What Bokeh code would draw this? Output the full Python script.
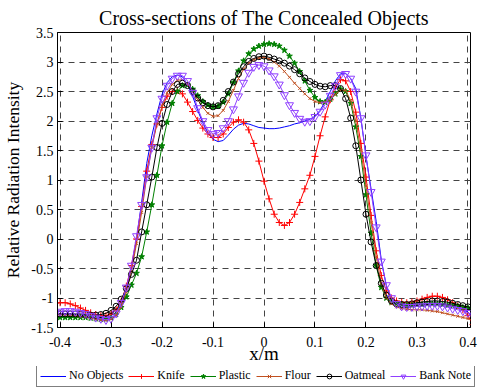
from bokeh.plotting import figure
from bokeh.layouts import column
from bokeh.models import Legend, LegendItem, Range1d, FixedTicker
from bokeh.embed import file_html
from bokeh.resources import INLINE

# ---- data -------------------------------------------------------------
x_m = [round(-0.41 + 0.01 * i, 2) for i in range(83)]

no_objects = [-1.27, -1.27, -1.27, -1.27, -1.28, -1.29, -1.30, -1.31, -1.33, -1.34,
              -1.33, -1.30, -1.24, -1.10, -0.85, -0.50, 0.00, 0.62, 1.28, 1.75,
              2.12, 2.45, 2.65, 2.75, 2.78, 2.75, 2.62, 2.42, 2.18, 1.97,
              1.80, 1.69, 1.65, 1.67, 1.76, 1.86, 1.93, 1.96, 1.95, 1.92,
              1.89, 1.88, 1.87, 1.87, 1.88, 1.90, 1.92, 1.95, 1.97, 2.00,
              2.03, 2.08, 2.18, 2.33, 2.50, 2.68, 2.80, 2.81, 2.72, 2.55,
              2.05, 1.40, 0.85, 0.30, -0.35, -0.80, -1.00, -1.08, -1.11, -1.12,
              -1.12, -1.11, -1.11, -1.10, -1.10, -1.10, -1.11, -1.12, -1.14, -1.16,
              -1.19, -1.24, -1.33]

knife = [-1.09, -1.08, -1.08, -1.10, -1.13, -1.17, -1.21, -1.25, -1.28, -1.30,
         -1.30, -1.27, -1.20, -1.05, -0.80, -0.45, 0.00, 0.55, 1.15, 1.60,
         1.95, 2.23, 2.42, 2.50, 2.52, 2.46, 2.32, 2.16, 2.01, 1.88,
         1.78, 1.72, 1.72, 1.78, 1.89, 1.98, 2.02, 1.98, 1.85, 1.62,
         1.32, 0.98, 0.68, 0.42, 0.28, 0.23, 0.28, 0.42, 0.62, 0.85,
         1.08, 1.40, 1.75, 2.07, 2.36, 2.58, 2.70, 2.68, 2.50, 2.15,
         1.62, 1.05, 0.40, -0.20, -0.62, -0.88, -1.00, -1.05, -1.07, -1.08,
         -1.07, -1.05, -1.02, -0.99, -0.97, -0.97, -0.99, -1.03, -1.08, -1.13,
         -1.20, -1.30, -1.45]

plastic = [-1.33, -1.33, -1.33, -1.33, -1.33, -1.33, -1.33, -1.34, -1.35, -1.36,
           -1.36, -1.34, -1.28, -1.16, -0.98, -0.78, -0.58, -0.30, 0.12, 0.58,
           1.08, 1.58, 1.98, 2.30, 2.50, 2.60, 2.61, 2.54, 2.43, 2.33,
           2.27, 2.24, 2.25, 2.32, 2.46, 2.65, 2.85, 3.02, 3.14, 3.22,
           3.27, 3.30, 3.31, 3.30, 3.27, 3.20, 3.10, 2.98, 2.84, 2.68,
           2.52, 2.40, 2.33, 2.32, 2.37, 2.46, 2.54, 2.50, 2.30, 1.90,
           1.40, 0.75, 0.10, -0.45, -0.82, -1.00, -1.07, -1.10, -1.11, -1.12,
           -1.12, -1.11, -1.11, -1.10, -1.10, -1.10, -1.11, -1.12, -1.13, -1.14,
           -1.16, -1.17, -1.19]

flour = [-1.28, -1.28, -1.29, -1.29, -1.30, -1.31, -1.32, -1.34, -1.36, -1.37,
         -1.38, -1.36, -1.29, -1.15, -0.90, -0.55, -0.08, 0.45, 1.05, 1.55,
         1.95, 2.25, 2.48, 2.62, 2.69, 2.70, 2.63, 2.50, 2.36, 2.23,
         2.13, 2.08, 2.09, 2.18, 2.33, 2.52, 2.72, 2.88, 2.98, 3.04,
         3.07, 3.08, 3.05, 3.00, 2.93, 2.84, 2.74, 2.64, 2.55, 2.46,
         2.38, 2.33, 2.31, 2.32, 2.37, 2.45, 2.52, 2.52, 2.35, 2.00,
         1.50, 0.90, 0.28, -0.30, -0.75, -1.00, -1.10, -1.15, -1.18, -1.19,
         -1.20, -1.20, -1.20, -1.21, -1.22, -1.23, -1.25, -1.27, -1.29, -1.31,
         -1.33, -1.35, -1.38]

oatmeal = [-1.27, -1.27, -1.27, -1.27, -1.27, -1.27, -1.28, -1.29, -1.29, -1.28,
           -1.26, -1.21, -1.14, -1.02, -0.84, -0.60, -0.36, 0.12, 0.58, 1.05,
           1.55, 1.96, 2.28, 2.50, 2.62, 2.64, 2.60, 2.50, 2.39, 2.31,
           2.26, 2.24, 2.26, 2.35, 2.50, 2.66, 2.80, 2.92, 3.01, 3.06,
           3.09, 3.10, 3.08, 3.05, 3.02, 2.98, 2.93, 2.87, 2.80, 2.73,
           2.67, 2.62, 2.59, 2.58, 2.60, 2.60, 2.55, 2.38, 2.05, 1.58,
           1.00, 0.42, -0.05, -0.45, -0.75, -0.95, -1.05, -1.10, -1.11, -1.11,
           -1.10, -1.08, -1.07, -1.06, -1.05, -1.05, -1.06, -1.07, -1.09, -1.11,
           -1.13, -1.15, -1.17]

bank_note = [-1.25, -1.23, -1.22, -1.22, -1.23, -1.25, -1.27, -1.30, -1.33, -1.35,
             -1.37, -1.35, -1.26, -1.08, -0.82, -0.45, 0.05, 0.58, 1.05, 1.55,
             2.05, 2.38, 2.60, 2.72, 2.77, 2.77, 2.68, 2.48, 2.22, 2.00,
             1.85, 1.78, 1.80, 1.88, 2.00, 2.20, 2.42, 2.65, 2.82, 2.92,
             2.95, 2.93, 2.86, 2.76, 2.62, 2.44, 2.27, 2.14, 2.04, 1.99,
             2.00, 2.07, 2.16, 2.28, 2.43, 2.60, 2.78, 2.80, 2.72, 2.50,
             2.05, 1.42, 0.80, 0.20, -0.38, -0.78, -1.00, -1.10, -1.14, -1.15,
             -1.15, -1.14, -1.14, -1.13, -1.13, -1.13, -1.14, -1.16, -1.18, -1.20,
             -1.22, -1.25, -1.30]

series_names = ["No Objects", "Knife", "Plastic", "Flour", "Oatmeal", "Bank Note"]
series_values = [no_objects, knife, plastic, flour, oatmeal, bank_note]

x_ticks = [-0.4, -0.3, -0.2, -0.1, 0.0, 0.1, 0.2, 0.3, 0.4]
x_tick_labels = ["-0.4", "-0.3", "-0.2", "-0.1", "0", "0.1", "0.2", "0.3", "0.4"]
y_ticks = [-1.5, -1.0, -0.5, 0.0, 0.5, 1.0, 1.5, 2.0, 2.5, 3.0, 3.5]
y_tick_labels = ["-1.5", "-1", "-0.5", "0", "0.5", "1", "1.5", "2", "2.5", "3", "3.5"]

title_text = "Cross-sections of The Concealed Objects"
x_label = "x/m"
y_label = "Relative Radiation Intensity"

# ---- styles -----------------------------------------------------------
FONT = "Liberation Serif"
styles = [
    dict(color="#0000ff", marker=None, size=0, fill=None),
    dict(color="#ff0000", marker="cross", size=7, fill=None),
    dict(color="#008000", marker="star", size=6, fill="#008000"),
    dict(color="#c05020", marker="x", size=4, fill=None),
    dict(color="#000000", marker="circle", size=6, fill=None),
    dict(color="#9040ff", marker="inverted_triangle", size=8, fill=None),
]

p = figure(width=484, height=366, output_backend="svg", toolbar_location=None,
           title=title_text,
           x_range=Range1d(-0.405, 0.405), y_range=Range1d(-1.5, 3.5),
           min_border_left=53, min_border_right=14, min_border_top=30,
           min_border_bottom=37)
p.frame_align = False

p.title.text_font = FONT
p.title.text_font_size = "20px"
p.title.text_font_style = "normal"
p.title.text_color = "black"
p.title.align = "center"
p.title.standoff = 8

p.background_fill_color = "white"
p.border_fill_color = "white"
p.outline_line_color = "black"
p.outline_line_width = 1
p.outline_line_alpha = 1

for ax in (p.xaxis[0], p.yaxis[0]):
    ax.axis_line_color = "black"
    ax.major_tick_line_color = "black"
    ax.major_tick_in = 5
    ax.major_tick_out = 0
    ax.minor_tick_line_color = None
    ax.major_label_text_font = FONT
    ax.major_label_text_font_size = "14px"
    ax.major_label_text_color = "black"
    ax.axis_label_text_font = FONT
    ax.axis_label_text_font_style = "normal"
    ax.axis_label_text_color = "black"

p.xaxis.axis_label = x_label
p.yaxis.axis_label = y_label
p.xaxis.axis_label_text_font_size = "19px"
p.yaxis.axis_label_text_font_size = "17.5px"
p.xaxis.ticker = FixedTicker(ticks=x_ticks)
p.yaxis.ticker = FixedTicker(ticks=y_ticks)
p.xaxis.major_label_overrides = {t: l for t, l in zip(x_ticks, x_tick_labels)}
p.yaxis.major_label_overrides = {t: l for t, l in zip(y_ticks, y_tick_labels)}
p.xaxis.major_label_standoff = 9
p.xaxis.axis_label_standoff = -7
p.yaxis.major_label_standoff = 4
p.yaxis.axis_label_standoff = 5

for g in (p.xgrid[0], p.ygrid[0]):
    g.grid_line_color = "#444444"
    g.grid_line_dash = "6 5"
    g.grid_line_width = 1
    g.grid_line_alpha = 1
p.xgrid.ticker = FixedTicker(ticks=x_ticks)
p.ygrid.ticker = FixedTicker(ticks=y_ticks)

for vals, st in zip(series_values, styles):
    p.line(x_m, vals, line_color=st["color"], line_width=1)
    if st["marker"]:
        p.scatter(x_m, vals, marker=st["marker"], size=st["size"],
                  line_color=st["color"], fill_color=st["fill"], line_width=1)

# ---- legend strip (separate figure below the plot) -------------------
q = figure(width=484, height=22, output_backend="svg", toolbar_location=None,
           x_range=Range1d(0, 1), y_range=Range1d(0, 1),
           x_axis_type=None, y_axis_type=None,
           min_border_left=0, min_border_right=0, min_border_top=0,
           min_border_bottom=0)
q.frame_align = False
q.outline_line_color = None
q.xgrid.visible = False
q.ygrid.visible = False
q.background_fill_color = "white"
q.border_fill_color = "white"

# legend-only renderers: their points lie outside the strip's ranges
items = []
for name, st in zip(series_names, styles):
    rs = [q.line([-5, -4], [-5, -4], line_color=st["color"], line_width=1)]
    if st["marker"]:
        rs.append(q.scatter([-5], [-5], marker=st["marker"], size=st["size"],
                            line_color=st["color"], fill_color=st["fill"],
                            line_width=1))
    items.append(LegendItem(label=name, renderers=rs))

legend = Legend(items=items, orientation="horizontal", location=(36, 1),
                label_text_font=FONT, label_text_font_size="12px",
                label_text_color="black", label_standoff=3, label_height=12,
                glyph_width=26, glyph_height=12, spacing=5, padding=3,
                margin=0, border_line_color="black", border_line_width=1,
                background_fill_color="white", background_fill_alpha=1)
q.add_layout(legend, "center")

layout = column(p, q, spacing=0)
open("out.html", "w").write(file_html(layout, INLINE))
